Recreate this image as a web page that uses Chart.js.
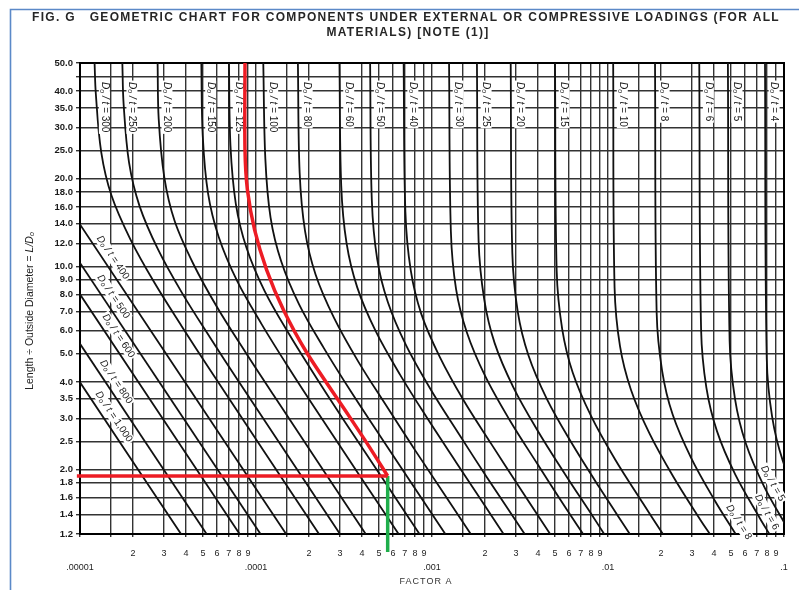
<!DOCTYPE html>
<html>
<head>
<meta charset="utf-8">
<script src="https://cdn.jsdelivr.net/npm/chart.js@4/dist/chart.umd.min.js"></script>
<style>
  html, body { margin: 0; padding: 0; background: #fff; }
  canvas { display: block; }
</style>
</head>
<body>
<canvas id="chart" width="799" height="590" style="width:799px;height:590px"></canvas>
<script>
// Factor A (x) versus L/Do (y) for each Do/t ratio, as [A, L/Do] pairs
const dt1000 = [[1.00e-5, 3.99], [3.75e-5, 1.2]];
const dt800  = [[1.00e-5, 5.41], [5.24e-5, 1.2]];
const dt600  = [[1.00e-5, 8.01], [8.07e-5, 1.2]];
const dt500  = [[1.00e-5, 10.27], [1.061e-4, 1.2]];
const dt400  = [[1.00e-5, 13.93], [1.483e-4, 1.2]];
const dt300 = [[1.21e-5, 50], [1.23e-5, 39.2], [1.32e-5, 24.7], [1.51e-5, 17.5], [1.93e-5, 12.4], [2.65e-5, 8.77], [3.79e-5, 6.21], [5.50e-5, 4.39], [2.28e-4, 1.2]];
const dt250 = [[1.74e-5, 50], [1.77e-5, 36.0], [1.90e-5, 22.7], [2.18e-5, 16.1], [2.78e-5, 11.4], [3.82e-5, 8.05], [5.47e-5, 5.70], [7.94e-5, 4.03], [3.00e-4, 1.2]];
const dt200 = [[2.76e-5, 50], [2.80e-5, 32.1], [3.01e-5, 20.3], [3.45e-5, 14.3], [4.40e-5, 10.2], [6.05e-5, 7.18], [8.66e-5, 5.09], [1.26e-4, 3.60], [4.20e-4, 1.2]];
const dt150 = [[4.89e-5, 50], [4.98e-5, 28.2], [5.34e-5, 17.8], [6.14e-5, 12.6], [7.81e-5, 8.90], [1.08e-4, 6.30], [1.54e-4, 4.46], [2.23e-4, 3.16], [6.46e-4, 1.2]];
const dt125 = [[7.02e-5, 50], [7.16e-5, 26.0], [7.68e-5, 16.4], [8.82e-5, 11.6], [1.12e-4, 8.21], [1.55e-4, 5.81], [2.21e-4, 4.12], [3.21e-4, 2.91], [8.49e-4, 1.2]];
const dt100 = [[1.10e-4, 50], [1.13e-4, 23.4], [1.21e-4, 14.7], [1.39e-4, 10.4], [1.76e-4, 7.38], [2.43e-4, 5.23], [3.47e-4, 3.70], [5.05e-4, 2.62], [1.19e-3, 1.2]];
const dt80  = [[1.73e-4, 50], [1.77e-4, 21.0], [1.90e-4, 13.2], [2.18e-4, 9.37], [2.78e-4, 6.63], [3.82e-4, 4.69], [5.47e-4, 3.33], [7.94e-4, 2.35], [1.66e-3, 1.2]];
const dt60  = [[2.98e-4, 50], [3.05e-4, 18.9], [3.27e-4, 12.0], [3.76e-4, 8.46], [4.78e-4, 5.99], [6.58e-4, 4.24], [9.41e-4, 3.00], [1.37e-3, 2.12], [2.55e-3, 1.2]];
const dt50  = [[4.45e-4, 50], [4.55e-4, 16.9], [4.88e-4, 10.6], [5.61e-4, 7.53], [7.14e-4, 5.33], [9.83e-4, 3.77], [1.41e-3, 2.67], [2.04e-3, 1.89], [3.36e-3, 1.2]];
const dt40  = [[6.90e-4, 50], [7.06e-4, 15.4], [7.57e-4, 9.69], [8.69e-4, 6.86], [1.11e-3, 4.86], [1.52e-3, 3.44], [2.18e-3, 2.44], [3.17e-3, 1.72], [4.69e-3, 1.2]];
const dt30  = [[1.25e-3, 50], [1.28e-3, 13.2], [1.37e-3, 8.35], [1.58e-3, 5.91], [2.01e-3, 4.18], [2.76e-3, 2.96], [3.95e-3, 2.10], [5.73e-3, 1.48], [7.22e-3, 1.2]];
const dt25  = [[1.80e-3, 50], [1.84e-3, 12.2], [1.98e-3, 7.69], [2.27e-3, 5.44], [2.89e-3, 3.85], [3.97e-3, 2.73], [5.69e-3, 1.93], [8.26e-3, 1.37], [9.51e-3, 1.2]];
const dt20  = [[2.80e-3, 50], [2.86e-3, 11.1], [3.07e-3, 6.98], [3.53e-3, 4.94], [4.49e-3, 3.50], [6.18e-3, 2.48], [8.85e-3, 1.75], [1.33e-2, 1.2]];
const dt15  = [[5.00e-3, 50], [5.11e-3, 9.65], [5.49e-3, 6.09], [6.30e-3, 4.31], [8.02e-3, 3.05], [1.10e-2, 2.16], [1.58e-2, 1.53], [2.05e-2, 1.2]];
const dt10  = [[1.07e-2, 50], [1.09e-2, 8.42], [1.17e-2, 5.31], [1.35e-2, 3.76], [1.72e-2, 2.66], [2.36e-2, 1.88], [3.38e-2, 1.33], [3.79e-2, 1.2]];
const dt8   = [[1.85e-2, 50], [1.89e-2, 6.92], [2.03e-2, 4.37], [2.33e-2, 3.09], [2.97e-2, 2.19], [4.08e-2, 1.55], [5.31e-2, 1.2]];
const dt6   = [[3.30e-2, 50], [3.38e-2, 6.07], [3.62e-2, 3.83], [4.16e-2, 2.71], [5.29e-2, 1.92], [7.29e-2, 1.36], [8.26e-2, 1.2]];
const dt5   = [[4.80e-2, 50], [4.91e-2, 5.53], [5.27e-2, 3.49], [6.05e-2, 2.47], [7.70e-2, 1.75], [1.06e-1, 1.24]];
const dt4   = [[7.80e-2, 50], [7.98e-2, 4.81], [8.56e-2, 3.04], [9.83e-2, 2.15], [1.25e-1, 1.52]];

const dtValues = [1000, 800, 600, 500, 400, 300, 250, 200, 150, 125, 100, 80, 60, 50, 40, 30, 25, 20, 15, 10, 8, 6, 5, 4];
const dtCurves = [dt1000, dt800, dt600, dt500, dt400, dt300, dt250, dt200, dt150, dt125, dt100, dt80, dt60, dt50, dt40, dt30, dt25, dt20, dt15, dt10, dt8, dt6, dt5, dt4];

// Worked example traced over the chart: Do/t path down to L/Do = 1.9, read-off at A
const exampleA = [8.66e-5, 8.66e-5, 8.94e-5, 9.82e-5, 1.149e-4, 1.431e-4, 1.944e-4, 3.31e-4, 4.33e-4, 5.6e-4];
const exampleL = [50, 25.1, 18.3, 13.34, 9.72, 7.08, 5.04, 3.11, 2.43, 1.9];
const exampleLD = 1.9;
const exampleFactorA = 5.6e-4;

// Axis ticks
const xTickValues = [
  1e-5, 1.5e-5, 2e-5, 3e-5, 4e-5, 5e-5, 6e-5, 7e-5, 8e-5, 9e-5,
  1e-4, 1.5e-4, 2e-4, 3e-4, 4e-4, 5e-4, 6e-4, 7e-4, 8e-4, 9e-4,
  1e-3, 1.5e-3, 2e-3, 3e-3, 4e-3, 5e-3, 6e-3, 7e-3, 8e-3, 9e-3,
  1e-2, 1.5e-2, 2e-2, 3e-2, 4e-2, 5e-2, 6e-2, 7e-2, 8e-2, 9e-2,
  1e-1
];
const xTickLabels = [
  '.00001', '', '2', '3', '4', '5', '6', '7', '8', '9',
  '.0001', '', '2', '3', '4', '5', '6', '7', '8', '9',
  '.001', '', '2', '3', '4', '5', '6', '7', '8', '9',
  '.01', '', '2', '3', '4', '5', '6', '7', '8', '9',
  '.1'
];
const yTickValues = [1.2, 1.4, 1.6, 1.8, 2.0, 2.5, 3.0, 3.5, 4.0, 5.0, 6.0, 7.0, 8.0, 9.0, 10, 12, 14, 16, 18, 20, 25, 30, 35, 40, 45, 50];
const yTickLabels = ['1.2', '1.4', '1.6', '1.8', '2.0', '2.5', '3.0', '3.5', '4.0', '5.0', '6.0', '7.0', '8.0', '9.0', '10.0', '12.0', '14.0', '16.0', '18.0', '20.0', '25.0', '30.0', '35.0', '40.0', '', '50.0'];

const titleLines = ['FIG. G   GEOMETRIC CHART FOR COMPONENTS UNDER EXTERNAL OR COMPRESSIVE LOADINGS (FOR ALL', 'MATERIALS) [NOTE (1)]'];
const xTitle = 'FACTOR A';
const yTitleParts = ['Length \u00F7 Outside Diameter = ', 'L/D', 'o'];

// Curve label placement: top labels hang beside the vertical branches,
// slanted labels ride along the sloping branches at the given L/Do.
const topLabelDt = [300, 250, 200, 150, 125, 100, 80, 60, 50, 40, 30, 25, 20, 15, 10, 8, 6, 5, 4];
const topLabelLD = 43;
const slantLabels = [[400, 10.3], [500, 7.55], [600, 5.54], [800, 3.85], [1000, 2.92], [8, 1.27], [6, 1.377], [5, 1.73]];

const FAM = '"Liberation Sans", Arial, sans-serif';

function toPts(pairs) { return pairs.map(([a, l]) => ({ x: a, y: l })); }

const datasets = dtValues.map((dt, i) => ({
  label: 'Do/t = ' + dt,
  data: toPts(dtCurves[i]),
  showLine: true,
  borderColor: '#111',
  borderWidth: 1.8,
  pointRadius: 0,
  tension: 0.35,
  fill: false,
  order: 1
}));

datasets.push({
  label: 'example path',
  data: exampleA.map((a, i) => ({ x: a, y: exampleL[i] })),
  showLine: true, borderColor: '#ed1c24', borderWidth: 3.5, pointRadius: 0,
  tension: 0.3, order: 0, overlay: true
});
datasets.push({
  label: 'example L/Do',
  data: [{ x: 9.6e-6, y: exampleLD }, { x: exampleFactorA, y: exampleLD }],
  showLine: true, borderColor: '#ed1c24', borderWidth: 3.5, pointRadius: 0,
  order: 0, overlay: true, clip: { left: 4, top: 0, right: 0, bottom: 0 }
});
datasets.push({
  label: 'example A',
  data: [{ x: exampleFactorA, y: exampleLD }, { x: exampleFactorA, y: 1.04 }],
  showLine: true, borderColor: '#1fae4b', borderWidth: 3.5, pointRadius: 0,
  order: 0, overlay: true, clip: { left: 0, top: 0, right: 0, bottom: 25 }
});

function fmtDt(v) { return v >= 1000 ? v.toLocaleString('en-US') : String(v); }

function dtParts(v) {
  return [
    { text: 'D', font: 'italic 10px ' + FAM },
    { text: 'o', font: 'italic 7px ' + FAM, dy: 2 },
    { text: ' / t = ', font: 'italic 10px ' + FAM },
    { text: fmtDt(v), font: '10px ' + FAM }
  ];
}
function richWidth(c, parts) {
  let w = 0;
  for (const p of parts) { c.font = p.font; w += c.measureText(p.text).width; }
  return w;
}
function drawRich(c, parts, x, y) {
  let cx = x;
  for (const p of parts) {
    c.font = p.font;
    c.fillText(p.text, cx, y + (p.dy || 0));
    cx += c.measureText(p.text).width;
  }
}

// point on a dataset's drawn polyline at a given pixel y, with local direction
function pointAtY(meta, py) {
  const pts = meta.data;
  for (let i = 0; i < pts.length - 1; i++) {
    const a = pts[i], b = pts[i + 1];
    if ((py - a.y) * (py - b.y) <= 0 && a.y !== b.y) {
      const t = (py - a.y) / (b.y - a.y);
      return { x: a.x + t * (b.x - a.x), y: py, ang: Math.atan2(b.y - a.y, b.x - a.x) };
    }
  }
  return null;
}

function drawDtLabel(c, x, y, ang, v, align, off) {
  const parts = dtParts(v);
  const w = richWidth(c, parts);
  c.save();
  c.translate(x, y);
  c.rotate(ang);
  c.translate(0, -off);
  const x0 = align === 'start' ? 0 : -w / 2;
  c.fillStyle = '#fff';
  c.fillRect(x0 - 1.5, -5.5, w + 3, 11);
  c.fillStyle = '#1a1a1a';
  c.textBaseline = 'middle';
  c.textAlign = 'left';
  drawRich(c, parts, x0, 0);
  c.restore();
}

let labelsDone = false;
function drawCurveLabels(chart) {
  const c = chart.ctx;
  const ys = chart.scales.y;
  c.save();
  for (const dt of topLabelDt) {
    const meta = chart.getDatasetMeta(dtValues.indexOf(dt));
    const p = pointAtY(meta, ys.getPixelForValue(topLabelLD));
    if (p) drawDtLabel(c, p.x, p.y, Math.PI / 2, dt, 'start', 9);
  }
  for (const [dt, ld] of slantLabels) {
    const meta = chart.getDatasetMeta(dtValues.indexOf(dt));
    const p = pointAtY(meta, ys.getPixelForValue(ld));
    if (p) drawDtLabel(c, p.x, p.y, p.ang, dt, 'center', 9);
  }
  c.restore();
}

function fitSpacing(c, text, target) {
  c.letterSpacing = '0px';
  const w0 = c.measureText(text).width;
  return (target - w0) / text.length;
}

const decor = {
  id: 'decor',
  beforeDraw(chart) {
    const c = chart.ctx;
    c.save();
    c.fillStyle = '#fff';
    c.fillRect(0, 0, chart.width, chart.height);
    // page frame
    c.strokeStyle = '#5b89c8';
    c.lineWidth = 1.6;
    c.beginPath();
    c.moveTo(10.5, chart.height);
    c.lineTo(10.5, 9.5);
    c.lineTo(chart.width, 9.5);
    c.stroke();
    // heading
    c.fillStyle = '#262626';
    c.font = 'bold 12px ' + FAM;
    c.textBaseline = 'middle';
    c.textAlign = 'left';
    const sp = fitSpacing(c, titleLines[0], 748);
    c.letterSpacing = sp + 'px';
    c.fillText(titleLines[0], 32, 17.5);
    const w2 = c.measureText(titleLines[1]).width;
    c.fillText(titleLines[1], 408 - w2 / 2, 33);
    c.letterSpacing = '0px';
    // x axis title
    c.font = '9px ' + FAM;
    c.letterSpacing = '1px';
    c.fillStyle = '#333';
    c.textAlign = 'center';
    c.fillText(xTitle, 426, 582);
    c.letterSpacing = '0px';
    // y axis title
    const parts = [
      { text: yTitleParts[0], font: '10.5px ' + FAM },
      { text: yTitleParts[1], font: 'italic 10.5px ' + FAM },
      { text: yTitleParts[2], font: 'italic 7px ' + FAM, dy: 2 }
    ];
    c.textAlign = 'left';
    c.fillStyle = '#222';
    const w = richWidth(c, parts);
    c.translate(30, 311);
    c.rotate(-Math.PI / 2);
    drawRich(c, parts, -w / 2, 0);
    c.restore();
  },
  beforeDatasetsDraw(chart) {
    labelsDone = false;
    const a = chart.chartArea;
    const c = chart.ctx;
    c.save();
    c.strokeStyle = '#000';
    c.lineWidth = 2;
    c.strokeRect(a.left, a.top, a.right - a.left, a.bottom - a.top);
    c.restore();
  },
  beforeDatasetDraw(chart, args) {
    if (!labelsDone && chart.data.datasets[args.index].overlay) {
      drawCurveLabels(chart);
      labelsDone = true;
    }
  }
};

new Chart(document.getElementById('chart').getContext('2d'), {
  type: 'scatter',
  data: { datasets },
  options: {
    responsive: false,
    animation: false,
    devicePixelRatio: 1,
    events: [],
    layout: { padding: { top: 63, right: 15, bottom: 0, left: 0 } },
    plugins: { legend: { display: false }, tooltip: { enabled: false }, title: { display: false } },
    scales: {
      x: {
        type: 'logarithmic',
        min: 1e-5, max: 0.1,
        afterBuildTicks: (s) => { s.ticks = xTickValues.map(v => ({ value: v })); },
        afterFit: (s) => { s.height = 56; },
        grid: { color: '#333', lineWidth: 1.4, tickLength: 3, drawTicks: true },
        border: { display: true, color: '#000', width: 2 },
        ticks: {
          autoSkip: false, maxRotation: 0, minRotation: 0, padding: 9,
          color: '#1e1e1e',
          font: { family: FAM, size: 9, lineHeight: 1.56 },
          callback: (v, i) => {
            const t = xTickLabels[i];
            return t.startsWith('.') ? ['', t] : t;
          }
        }
      },
      y: {
        type: 'logarithmic',
        min: 1.2, max: 50,
        afterBuildTicks: (s) => { s.ticks = yTickValues.map(v => ({ value: v })); },
        afterFit: (s) => { s.width = 80; },
        grid: { color: '#333', lineWidth: 1.4, tickLength: 4, drawTicks: true },
        border: { display: true, color: '#000', width: 2 },
        ticks: {
          autoSkip: false, padding: 3,
          color: '#1a1a1a',
          font: { family: FAM, size: 9.5, weight: 'bold' },
          callback: (v, i) => yTickLabels[i]
        }
      }
    }
  },
  plugins: [decor]
});
</script>
</body>
</html>
